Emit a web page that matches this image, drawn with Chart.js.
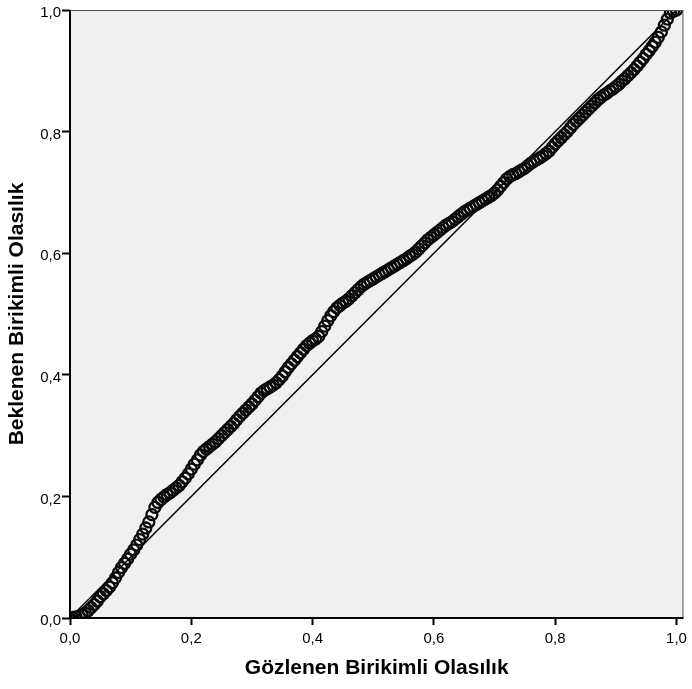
<!DOCTYPE html>
<html>
<head>
<meta charset="utf-8">
<script src="https://cdn.jsdelivr.net/npm/chart.js@4/dist/chart.umd.min.js"></script>
<style>
  html, body { margin: 0; padding: 0; background: #ffffff; }
  #wrap { position: relative; width: 692px; height: 689px; }
</style>
</head>
<body>
<div id="wrap"><canvas id="c" width="692" height="689"></canvas></div>
<script>
// Observed cumulative probability (x)
const observed = [
  0.000,0.005,0.010,0.015,0.020,0.025,0.030,0.035,0.040,0.045,
  0.050,0.055,0.060,0.065,0.070,0.075,0.080,0.085,0.090,0.095,
  0.100,0.105,0.110,0.115,0.120,0.125,0.130,0.135,0.140,0.145,
  0.150,0.155,0.160,0.165,0.170,0.175,0.180,0.185,0.190,0.195,
  0.200,0.205,0.210,0.215,0.220,0.225,0.230,0.235,0.240,0.245,
  0.250,0.255,0.260,0.265,0.270,0.275,0.280,0.285,0.290,0.295,
  0.300,0.305,0.310,0.315,0.320,0.325,0.330,0.335,0.340,0.345,
  0.350,0.355,0.360,0.365,0.370,0.375,0.380,0.385,0.390,0.395,
  0.400,0.405,0.410,0.415,0.420,0.425,0.430,0.435,0.440,0.445,
  0.450,0.455,0.460,0.465,0.470,0.475,0.480,0.485,0.490,0.495,
  0.500,0.505,0.510,0.515,0.520,0.525,0.530,0.535,0.540,0.545,
  0.550,0.555,0.560,0.565,0.570,0.575,0.580,0.585,0.590,0.595,
  0.600,0.605,0.610,0.615,0.620,0.625,0.630,0.635,0.640,0.645,
  0.650,0.655,0.660,0.665,0.670,0.675,0.680,0.685,0.690,0.695,
  0.700,0.705,0.710,0.715,0.720,0.725,0.730,0.735,0.740,0.745,
  0.750,0.755,0.760,0.765,0.770,0.775,0.780,0.785,0.790,0.795,
  0.800,0.805,0.810,0.815,0.820,0.825,0.830,0.835,0.840,0.845,
  0.850,0.855,0.860,0.865,0.870,0.875,0.880,0.885,0.890,0.895,
  0.900,0.905,0.910,0.915,0.920,0.925,0.930,0.935,0.940,0.945,
  0.950,0.955,0.960,0.965,0.970,0.975,0.980,0.985,0.990,0.995,
  1.000
];
// Expected cumulative probability (y)
const expected = [
  0.000,0.001,0.002,0.003,0.005,0.008,0.012,0.017,0.022,0.028,
  0.035,0.040,0.045,0.051,0.058,0.066,0.075,0.083,0.090,0.097,
  0.105,0.112,0.120,0.129,0.138,0.148,0.158,0.170,0.182,0.190,
  0.195,0.199,0.203,0.206,0.210,0.214,0.218,0.224,0.230,0.237,
  0.245,0.253,0.260,0.268,0.274,0.278,0.282,0.286,0.290,0.295,
  0.300,0.305,0.310,0.315,0.320,0.326,0.332,0.337,0.342,0.347,
  0.352,0.358,0.364,0.370,0.374,0.377,0.380,0.383,0.387,0.392,
  0.398,0.405,0.412,0.418,0.424,0.430,0.436,0.442,0.448,0.452,
  0.456,0.459,0.463,0.471,0.480,0.489,0.497,0.504,0.510,0.514,
  0.518,0.521,0.525,0.530,0.535,0.540,0.545,0.549,0.552,0.555,
  0.558,0.561,0.564,0.567,0.570,0.573,0.576,0.579,0.582,0.585,
  0.588,0.591,0.595,0.598,0.602,0.607,0.612,0.617,0.622,0.626,
  0.630,0.634,0.638,0.642,0.646,0.649,0.652,0.656,0.660,0.664,
  0.668,0.671,0.674,0.677,0.680,0.683,0.686,0.689,0.692,0.695,
  0.699,0.704,0.710,0.716,0.722,0.726,0.729,0.731,0.734,0.737,
  0.740,0.744,0.748,0.751,0.754,0.757,0.760,0.764,0.768,0.774,
  0.780,0.785,0.790,0.795,0.800,0.806,0.812,0.817,0.822,0.827,
  0.832,0.837,0.842,0.847,0.852,0.856,0.860,0.863,0.867,0.870,
  0.874,0.878,0.883,0.887,0.892,0.897,0.902,0.908,0.914,0.920,
  0.927,0.933,0.940,0.947,0.955,0.964,0.975,0.985,0.995,0.998,
  1.000
];
// Reference diagonal
const diagX = [0, 1];
const diagY = [0, 1];
const tickValues = [0, 0.2, 0.4, 0.6, 0.8, 1.0];
const xTitle = 'Gözlenen Birikimli Olasılık';
const yTitle = 'Beklenen Birikimli Olasılık';

const fmt = v => Number(v).toFixed(1).replace('.', ',');
const FONT = '"Liberation Sans", Arial, sans-serif';

const plotBg = {
  id: 'plotBg',
  beforeDraw(chart) {
    const {ctx, chartArea: a} = chart;
    ctx.save();
    ctx.fillStyle = '#f0f0f0';
    ctx.fillRect(a.left, a.top, a.right - a.left, a.bottom - a.top);
    ctx.restore();
  },
  afterDatasetsDraw(chart) {
    const {ctx, chartArea: a} = chart;
    ctx.save();
    ctx.strokeStyle = '#555555';
    ctx.lineWidth = 1;
    ctx.strokeRect(a.left + 0.5, a.top + 0.5, a.right - a.left - 1, a.bottom - a.top - 1);
    ctx.strokeStyle = '#000000';
    ctx.lineWidth = 2;
    ctx.beginPath();
    ctx.moveTo(a.left, a.top);
    ctx.lineTo(a.left, a.bottom);
    ctx.lineTo(a.right, a.bottom);
    ctx.stroke();
    ctx.restore();
  }
};

const pts = observed.map((x, i) => ({x, y: expected[i]}));
const diag = diagX.map((x, i) => ({x, y: diagY[i]}));

new Chart(document.getElementById('c'), {
  type: 'scatter',
  data: {
    datasets: [
      {
        type: 'line',
        data: diag,
        borderColor: '#000000',
        borderWidth: 1.5,
        pointRadius: 0,
        fill: false,
        order: 2
      },
      {
        data: pts,
        pointStyle: 'circle',
        pointRadius: 5.5,
        pointBorderWidth: 2.3,
        pointBorderColor: '#0a0a0a',
        pointBackgroundColor: 'rgba(0,0,0,0)',
        order: 1
      }
    ]
  },
  options: {
    responsive: false,
    animation: false,
    events: [],
    layout: { padding: { top: 10, right: 5, left: 0, bottom: 0 } },
    plugins: { legend: { display: false }, tooltip: { enabled: false } },
    scales: {
      x: {
        type: 'linear',
        min: 0,
        max: 1.0115,
        afterBuildTicks: s => { s.ticks = tickValues.map(v => ({value: v})); },
        afterFit: s => { s.height = 71; },
        ticks: {
          callback: v => fmt(v),
          color: '#000000',
          font: { family: FONT, size: 15 },
          padding: 5,
          maxRotation: 0,
          autoSkip: false
        },
        grid: {
          drawOnChartArea: false,
          drawTicks: true,
          tickLength: 7,
          tickWidth: 2,
          tickColor: '#000000'
        },
        border: { display: false },
        title: {
          display: true,
          text: xTitle,
          color: '#000000',
          font: { family: FONT, size: 21, weight: 'bold' },
          padding: { top: 2, bottom: 8 }
        }
      },
      y: {
        type: 'linear',
        min: 0,
        max: 1,
        afterBuildTicks: s => { s.ticks = tickValues.map(v => ({value: v})); },
        afterFit: s => { s.width = 70; },
        ticks: {
          callback: v => fmt(v),
          color: '#000000',
          font: { family: FONT, size: 15 },
          padding: 1,
          labelOffset: 3,
          autoSkip: false
        },
        grid: {
          drawOnChartArea: false,
          drawTicks: true,
          tickLength: 8,
          tickWidth: 2,
          tickColor: '#000000'
        },
        border: { display: false },
        title: {
          display: true,
          text: yTitle,
          color: '#000000',
          font: { family: FONT, size: 21, weight: 'bold' },
          padding: { top: 5, bottom: 2 }
        }
      }
    }
  },
  plugins: [plotBg]
});
</script>
</body>
</html>
